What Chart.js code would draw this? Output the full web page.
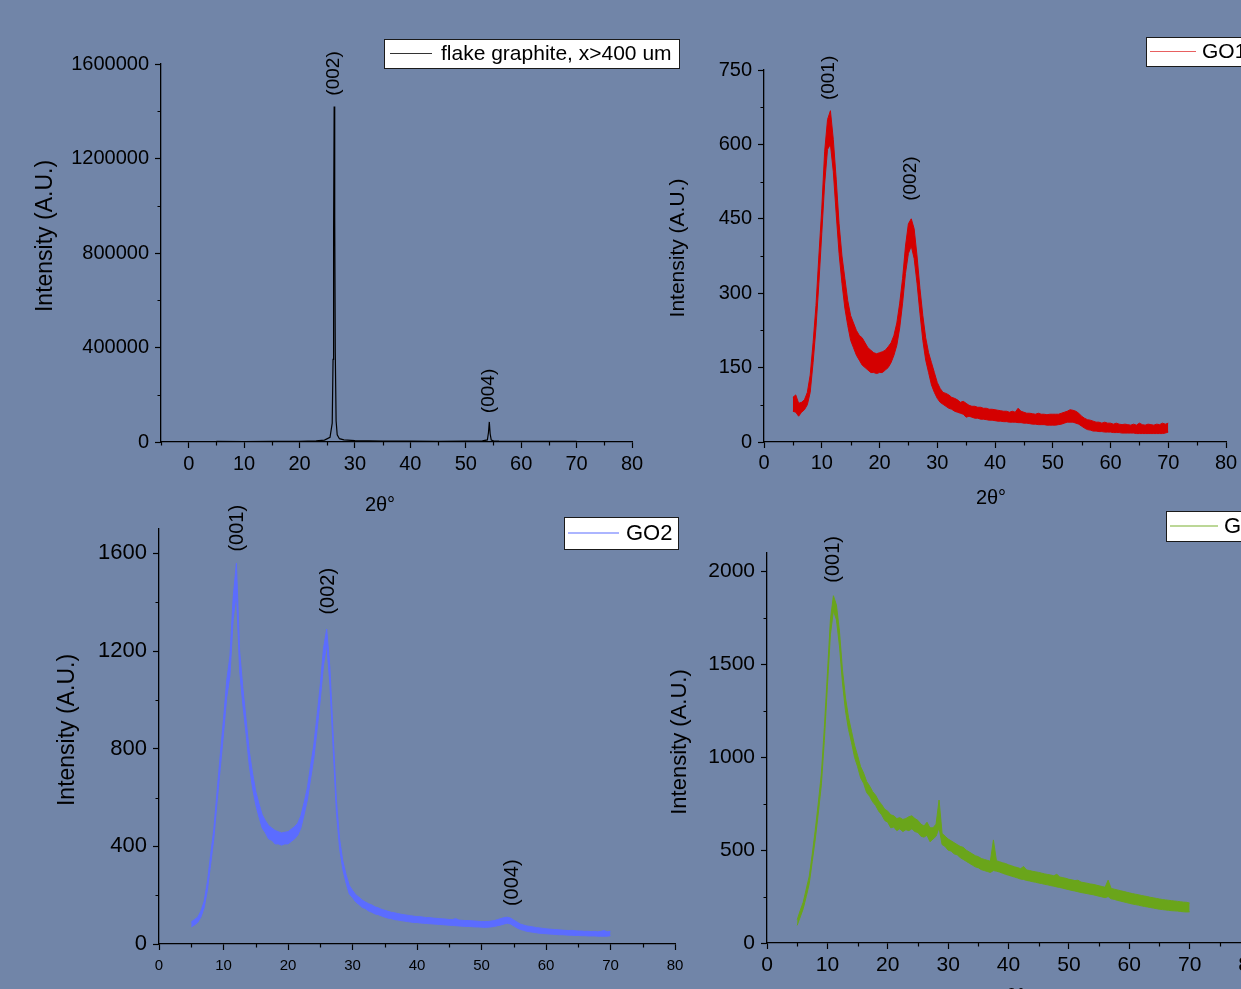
<!DOCTYPE html>
<html>
<head>
<meta charset="utf-8">
<script src="https://cdn.jsdelivr.net/npm/chart.js@4.4.1/dist/chart.umd.min.js"></script>
<style>
  html, body { margin: 0; padding: 0; width: 1241px; height: 989px; overflow: hidden; background: #7185a8; }
  canvas { position: absolute; }
</style>
</head>
<body>
<canvas id="c1" width="700" height="505" style="left:0px;top:20px"></canvas>
<canvas id="c2" width="640" height="505" style="left:650px;top:20px"></canvas>
<canvas id="c3" width="700" height="484" style="left:0px;top:505px"></canvas>
<canvas id="c4" width="660" height="520" style="left:650px;top:505px"></canvas>
<script>
const FONT = "'Liberation Sans', Arial, sans-serif";

// ---- data (2theta in degrees, intensity in A.U.) ----
const graphiteAngles = [5, 10, 15, 20, 23, 24.5, 25.5, 25.9, 26.05, 26.15,
  26.25, 26.35, 26.45, 26.6, 26.8, 27.2, 28, 30, 35, 40,
  45, 50, 53, 53.9, 54.1, 54.25, 54.4, 54.6, 55, 56,
  60, 65, 70];
const graphiteCounts = [2500, 2200, 2400, 3000, 4500, 8000, 20000, 80000, 350000, 900000,
  1420000, 950000, 380000, 90000, 30000, 14000, 9000, 5500, 4000, 3500,
  3200, 3500, 5000, 9000, 40000, 85000, 35000, 8000, 4500, 3500,
  3000, 2800, 2600];

// GO scans share the same 2theta grid, 5 to 70 in 0.5 steps.
// The scans are noisy, so each one is kept as the lower and upper edge of its noise band.
const goAngles = [
  5, 5.5, 6, 6.5, 7, 7.5, 8, 8.5, 9, 9.5,
  10, 10.5, 11, 11.5, 12, 12.5, 13, 13.5, 14, 14.5,
  15, 15.5, 16, 16.5, 17, 17.5, 18, 18.5, 19, 19.5,
  20, 20.5, 21, 21.5, 22, 22.5, 23, 23.5, 24, 24.5,
  25, 25.5, 26, 26.5, 27, 27.5, 28, 28.5, 29, 29.5,
  30, 30.5, 31, 31.5, 32, 32.5, 33, 33.5, 34, 34.5,
  35, 35.5, 36, 36.5, 37, 37.5, 38, 38.5, 39, 39.5,
  40, 40.5, 41, 41.5, 42, 42.5, 43, 43.5, 44, 44.5,
  45, 45.5, 46, 46.5, 47, 47.5, 48, 48.5, 49, 49.5,
  50, 50.5, 51, 51.5, 52, 52.5, 53, 53.5, 54, 54.5,
  55, 55.5, 56, 56.5, 57, 57.5, 58, 58.5, 59, 59.5,
  60, 60.5, 61, 61.5, 62, 62.5, 63, 63.5, 64, 64.5,
  65, 65.5, 66, 66.5, 67, 67.5, 68, 68.5, 69, 69.5,
  70];

const go1Low = [
  62, 60, 52, 60, 65, 75, 100, 160, 230, 320,
  420, 520, 590, 600, 545, 460, 380, 320, 270, 235,
  205, 190, 175, 165, 155, 150, 145, 140, 140, 138,
  140, 140, 145, 150, 160, 175, 195, 230, 280, 340,
  380, 395, 370, 320, 260, 205, 165, 140, 115, 100,
  88, 80, 76, 72, 68, 66, 62, 60, 58, 56,
  50, 52, 50, 48, 48, 46, 46, 45, 44, 44,
  43, 42, 42, 41, 41, 40, 40, 40, 39, 39,
  38, 38, 37, 36, 36, 35, 35, 35, 34, 34,
  34, 34, 35, 36, 38, 40, 40, 40, 38, 36,
  32, 28, 25, 24, 22, 22, 21, 21, 20, 20,
  20, 19, 19, 19, 18, 18, 18, 18, 18, 17,
  17, 17, 17, 17, 17, 17, 17, 17, 17, 18,
  20];
const go1High = [
  90, 95, 78, 80, 85, 100, 135, 200, 275, 375,
  470, 585, 650, 668, 610, 530, 440, 375, 330, 285,
  255, 240, 225, 215, 210, 200, 190, 185, 180, 178,
  180, 182, 185, 192, 200, 215, 240, 280, 330, 395,
  440, 450, 430, 375, 310, 255, 210, 180, 160, 140,
  120, 108, 100, 98, 95, 90, 88, 85, 80, 82,
  78, 74, 72, 72, 70, 70, 68, 68, 66, 66,
  65, 64, 63, 62, 62, 60, 62, 60, 68, 62,
  60, 58, 58, 57, 56, 58, 56, 56, 55, 56,
  56, 56, 56, 58, 60, 62, 65, 64, 62, 58,
  52, 48, 45, 44, 42, 40, 40, 38, 40, 38,
  38, 36, 38, 36, 35, 36, 35, 34, 36, 34,
  38, 35, 34, 36, 35, 34, 36, 35, 38, 36,
  38];

const go2Low = [
  70, 78, 88, 110, 148, 220, 325, 430, 580, 720,
  860, 1010, 1100, 1330, 1440, 1120, 980, 860, 730, 640,
  570, 520, 475, 455, 430, 425, 410, 410, 405, 410,
  410, 420, 430, 445, 475, 530, 590, 675, 760, 875,
  1000, 1140, 1230, 1060, 800, 540, 390, 305, 250, 205,
  190, 172, 162, 150, 145, 135, 130, 123, 120, 115,
  110, 106, 104, 100, 98, 96, 94, 92, 90, 88,
  88, 86, 85, 84, 83, 82, 81, 80, 79, 78,
  77, 76, 75, 74, 73, 72, 72, 71, 70, 70,
  69, 68, 69, 70, 72, 75, 78, 82, 85, 82,
  74, 66, 60, 56, 52, 50, 48, 46, 44, 43,
  42, 41, 40, 39, 38, 38, 37, 36, 36, 35,
  35, 34, 34, 33, 33, 33, 32, 32, 32, 32,
  34];
const go2High = [
  90, 100, 110, 135, 175, 255, 365, 470, 625, 775,
  920, 1080, 1180, 1420, 1560, 1200, 1050, 920, 790, 700,
  625, 575, 530, 505, 485, 475, 465, 460, 455, 458,
  460, 470, 480, 495, 525, 580, 640, 730, 815, 935,
  1060, 1210, 1290, 1130, 860, 590, 430, 340, 285, 240,
  220, 202, 192, 180, 172, 165, 160, 152, 148, 142,
  138, 134, 130, 128, 125, 122, 120, 118, 116, 114,
  112, 112, 110, 108, 108, 106, 105, 104, 103, 102,
  100, 100, 104, 98, 97, 96, 96, 95, 94, 93,
  92, 92, 92, 94, 96, 100, 104, 108, 110, 106,
  98, 90, 82, 78, 74, 72, 70, 67, 66, 64,
  62, 61, 60, 59, 58, 57, 56, 55, 56, 54,
  53, 53, 52, 52, 51, 52, 50, 52, 55, 50,
  52];

const go3Low = [
  95, 140, 185, 250, 320, 440, 560, 700, 850, 1090,
  1380, 1660, 1790, 1740, 1600, 1400, 1250, 1150, 1080, 1000,
  950, 890, 860, 810, 790, 760, 740, 710, 690, 660,
  650, 620, 625, 605, 615, 600, 610, 605, 615, 600,
  595, 575, 570, 580, 545, 560, 575, 620, 530, 520,
  500, 495, 480, 475, 460, 450, 440, 430, 420, 410,
  405, 395, 390, 385, 380, 390, 387, 382, 376, 370,
  365, 360, 355, 350, 344, 342, 337, 334, 330, 327,
  323, 320, 316, 313, 309, 306, 302, 299, 295, 291,
  287, 283, 280, 276, 272, 269, 266, 263, 260, 256,
  252, 248, 244, 250, 238, 235, 230, 226, 222, 218,
  214, 210, 207, 204, 200, 197, 194, 191, 188, 185,
  182, 180, 178, 176, 174, 173, 172, 170, 168, 167,
  168];
const go3High = [
  125, 175, 220, 290, 360, 480, 610, 755, 910, 1160,
  1450, 1740, 1870, 1820, 1680, 1470, 1320, 1215, 1140, 1065,
  1010, 950, 915, 870, 845, 815, 795, 765, 745, 720,
  710, 690, 685, 670, 675, 665, 670, 680, 685, 670,
  660, 640, 630, 650, 620, 620, 640, 770, 590, 575,
  560, 550, 540, 530, 520, 515, 500, 490, 480, 470,
  465, 455, 450, 445, 440, 555, 443, 438, 432, 428,
  421, 416, 410, 406, 400, 412, 393, 390, 386, 383,
  380, 376, 372, 369, 366, 362, 370, 355, 352, 348,
  343, 340, 336, 338, 328, 325, 322, 318, 316, 312,
  308, 304, 300, 338, 294, 290, 286, 282, 278, 274,
  270, 266, 263, 260, 256, 253, 250, 246, 243, 240,
  237, 234, 232, 230, 228, 226, 224, 222, 220, 219,
  215];

// tick labels
const xTicks = [0, 10, 20, 30, 40, 50, 60, 70, 80];
const yTicks1 = [0, 400000, 800000, 1200000, 1600000];
const yTicks2 = [0, 150, 300, 450, 600, 750];
const yTicks3 = [0, 400, 800, 1200, 1600];
const yTicks4 = [0, 500, 1000, 1500, 2000];

// reflection labels, placed at (2theta, intensity)
const peaks1 = [{ text: "(002)", x: 26.2, y: 1560000 }, { text: "(004)", x: 54.2, y: 216000 }];
const peaks2 = [{ text: "(001)", x: 11.3, y: 734 }, { text: "(002)", x: 25.5, y: 531 }];
const peaks3 = [{ text: "(001)", x: 12.15, y: 1703 }, { text: "(002)", x: 26.3, y: 1445 }, { text: "(004)", x: 54.8, y: 251 }];
const peaks4 = [{ text: "(001)", x: 11.0, y: 2066 }];

// ---- drawing helpers ----
function toPoints(xs, ys) {
  return xs.map((a, i) => ({ x: a, y: ys[i] }));
}

function lineSet(points, color, width) {
  return { data: points, borderColor: color, borderWidth: width, pointRadius: 0, tension: 0, fill: false };
}

// noise band: lower edge, then upper edge filled down to it
function bandSets(xs, low, high, color) {
  return [
    lineSet(toPoints(xs, low), color, 1),
    { ...lineSet(toPoints(xs, high), color, 1), fill: "-1", backgroundColor: color },
  ];
}

// minor ticks, peak labels, axis titles and the framed legend
function decor(p) {
  return {
    id: "decor",
    afterDraw(chart) {
      const { ctx, chartArea } = chart;
      const x = chart.scales.x, y = chart.scales.y;
      ctx.save();
      ctx.strokeStyle = "#000";
      ctx.lineWidth = 1.2;
      ctx.beginPath();
      for (let v = p.xMin; v <= p.xMax + 1e-9; v += p.xMinor) {
        if (xTicks.includes(v)) continue;
        const px = Math.round(x.getPixelForValue(v)) + 0.5;
        ctx.moveTo(px, chartArea.bottom);
        ctx.lineTo(px, chartArea.bottom + 3.5);
      }
      for (let v = 0; v <= p.yMax + 1e-9; v += p.yMinor) {
        if (p.yTicks.includes(v)) continue;
        const py = Math.round(y.getPixelForValue(v)) + 0.5;
        ctx.moveTo(chartArea.left, py);
        ctx.lineTo(chartArea.left - 3.5, py);
      }
      ctx.stroke();

      ctx.fillStyle = "#000";
      ctx.textAlign = "center";
      ctx.textBaseline = "middle";
      ctx.font = p.peakFont + "px " + FONT;
      p.peaks.forEach((pk) => {
        ctx.save();
        ctx.translate(x.getPixelForValue(pk.x), y.getPixelForValue(pk.y));
        ctx.rotate(-Math.PI / 2);
        ctx.fillText(pk.text, 0, 0);
        ctx.restore();
      });

      // axis titles (page coords -> canvas coords)
      ctx.font = p.yTitleFont + "px " + FONT;
      ctx.save();
      ctx.translate(p.yTitle[0] - p.left, p.yTitle[1] - p.top);
      ctx.rotate(-Math.PI / 2);
      ctx.fillText("Intensity (A.U.)", 0, 0);
      ctx.restore();
      if (p.xTitle) {
        ctx.font = "20px " + FONT;
        ctx.fillText("2\u03b8\u00b0", p.xTitle[0] - p.left, p.xTitle[1] - p.top);
      }

      // legend box
      const L = p.legend;
      const bx = L.box[0] - p.left, by = L.box[1] - p.top;
      ctx.fillStyle = "#fff";
      ctx.fillRect(bx, by, L.box[2], L.box[3]);
      ctx.strokeStyle = "#1a1a1a";
      ctx.lineWidth = 1;
      ctx.strokeRect(bx + 0.5, by + 0.5, L.box[2], L.box[3]);
      const ly = by + L.box[3] / 2;
      ctx.strokeStyle = L.lineColor;
      ctx.lineWidth = 1.2;
      ctx.beginPath();
      ctx.moveTo(L.line[0] - p.left, ly);
      ctx.lineTo(L.line[1] - p.left, ly);
      ctx.stroke();
      ctx.fillStyle = "#000";
      ctx.textAlign = "left";
      ctx.font = L.font + "px " + FONT;
      ctx.fillText(L.text, L.textX - p.left, ly + 1);
      ctx.restore();
    },
  };
}

function makeChart(id, p, datasets) {
  const canvas = document.getElementById(id);
  new Chart(canvas, {
    type: "line",
    data: { datasets },
    options: {
      responsive: false,
      animation: false,
      events: [],
      layout: { padding: { top: p.chartTop - p.top, right: canvas.width - (p.chartRight - p.left), left: 0, bottom: 0 } },
      plugins: { legend: { display: false }, tooltip: { enabled: false } },
      scales: {
        x: {
          type: "linear",
          min: p.xMin,
          max: p.xMax,
          afterBuildTicks: (s) => { s.ticks = xTicks.map((v) => ({ value: v })); },
          afterFit: (s) => { s.height = canvas.height - (p.chartBottom - p.top); },
          ticks: {
            color: "#000", autoSkip: false, maxRotation: 0, padding: p.xPad,
            font: { family: FONT, size: p.xFont },
            callback: (v) => String(v),
          },
          grid: { drawOnChartArea: false, tickLength: 6, tickColor: "#000", tickWidth: 1.2 },
          border: { color: "#000", width: 1.3 },
        },
        y: {
          min: 0,
          max: p.yMax,
          afterBuildTicks: (s) => { s.ticks = p.yTicks.map((v) => ({ value: v })); },
          afterFit: (s) => { s.width = p.chartLeft - p.left; },
          ticks: {
            color: "#000", autoSkip: false, padding: 6,
            font: { family: FONT, size: p.yFont },
            callback: (v) => String(v),
          },
          grid: { drawOnChartArea: false, tickLength: 6, tickColor: "#000", tickWidth: 1.2 },
          border: { color: "#000", width: 1.3 },
        },
      },
    },
    plugins: [decor(p)],
  });
}

// panel 1: flake graphite
makeChart("c1", {
  left: 0, top: 20, chartLeft: 161, chartTop: 64, chartRight: 632, chartBottom: 442,
  xMin: -5, xMax: 80, xMinor: 5, yMax: 1600000, yMinor: 200000, yTicks: yTicks1,
  xFont: 20, yFont: 20, xPad: 4, peakFont: 19, peaks: peaks1,
  yTitle: [46, 236], yTitleFont: 23, xTitle: [380, 505],
  legend: { box: [384, 39, 295, 29], line: [390, 432], textX: 441, text: "flake graphite, x>400 um", font: 21, lineColor: "#333" },
}, [lineSet(toPoints(graphiteAngles, graphiteCounts), "#000000", 1.2)]);

// panel 2: GO1
makeChart("c2", {
  left: 650, top: 20, chartLeft: 764, chartTop: 70, chartRight: 1226, chartBottom: 442,
  xMin: 0, xMax: 80, xMinor: 5, yMax: 750, yMinor: 75, yTicks: yTicks2,
  xFont: 20, yFont: 20, xPad: 3, peakFont: 19, peaks: peaks2,
  yTitle: [678, 248], yTitleFont: 21, xTitle: [991, 498],
  legend: { box: [1146, 37, 140, 29], line: [1150, 1196], textX: 1202, text: "GO1", font: 21, lineColor: "#e86060" },
}, bandSets(goAngles, go1Low, go1High, "#d40000"));

// panel 3: GO2
makeChart("c3", {
  left: 0, top: 505, chartLeft: 159, chartTop: 529, chartRight: 675, chartBottom: 944,
  xMin: 0, xMax: 80, xMinor: 5, yMax: 1700, yMinor: 200, yTicks: yTicks3,
  xFont: 15, yFont: 22, xPad: 7, peakFont: 20, peaks: peaks3,
  yTitle: [68, 730], yTitleFont: 23, xTitle: null,
  legend: { box: [564, 517, 114, 32], line: [568, 619], textX: 626, text: "GO2", font: 22, lineColor: "#5b6cff" },
}, bandSets(goAngles, go2Low, go2High, "#5b6cff"));

// panel 4: GO3
makeChart("c4", {
  left: 650, top: 505, chartLeft: 767, chartTop: 553, chartRight: 1250, chartBottom: 943,
  xMin: 0, xMax: 80, xMinor: 5, yMax: 2100, yMinor: 250, yTicks: yTicks4,
  xFont: 21, yFont: 21, xPad: 4, peakFont: 20, peaks: peaks4,
  yTitle: [680, 742], yTitleFont: 22, xTitle: [1010, 997],
  legend: { box: [1166, 511, 140, 30], line: [1170, 1218], textX: 1224, text: "GO3", font: 22, lineColor: "#7ab030" },
}, bandSets(goAngles, go3Low, go3High, "#6aa51a"));
</script>
</body>
</html>
